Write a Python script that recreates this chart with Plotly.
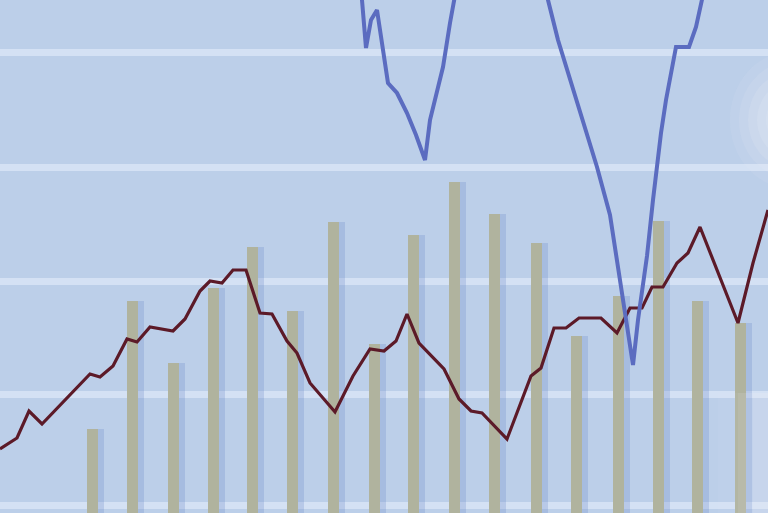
import plotly.graph_objects as go

# ---- data (height above the bottom edge, x position along the time axis) ----
bar_x = [92, 132, 173, 213, 252, 292, 333, 374, 413, 454, 494, 536, 576, 618, 658, 697, 740]
bar_y = [84, 212, 150, 225, 266, 202, 291, 169, 278, 331, 299, 270, 177, 217, 292, 212, 190]

red_x = [0, 17, 29, 42, 90, 100, 113, 127, 137, 150, 173, 185, 200, 210, 222, 233, 246,
         260, 272, 287, 297, 310, 335, 353, 370, 384, 396, 407, 419, 444, 459, 471, 482,
         507, 531, 541, 554, 566, 579, 601, 617, 630, 642, 652, 663, 677, 688, 700, 738,
         753, 768]
red_y = [64, 75, 102, 89, 139, 136, 147, 174, 171, 186, 182, 194, 222, 232, 230, 243, 243,
         200, 199, 172, 160, 130, 101, 137, 164, 162, 172, 199, 170, 144, 114, 102, 100,
         74, 137, 145, 185, 185, 195, 195, 180, 205, 205, 226, 226, 250, 260, 286, 190,
         250, 303]

blue_x = [360, 362, 366, 371, 377, 382, 388, 397, 407, 416, 425, 430, 436, 443, 450, 455, 456,
          None,
          546, 548, 558, 571, 584, 597, 610, 623, 628, 633, 638, 643, 647, 653, 661, 666, 676,
          689, 696, 703, 704]
blue_y = [523, 513, 465, 493, 503, 468, 430, 420, 400, 378, 353, 393, 418, 446, 490, 518, 523,
          None,
          523, 513, 473, 430, 386, 346, 298, 213, 178, 148, 193, 230, 257, 313, 380, 413, 466,
          466, 486, 518, 523]

grid_vals = [8, 119, 232, 346, 461]

fig = go.Figure()

# soft blue shadow to the right of each bar
fig.add_trace(go.Bar(x=bar_x, y=bar_y, width=9, offset=3,
                     marker=dict(color="rgba(110,140,200,0.28)", line=dict(width=0)),
                     hoverinfo="skip", showlegend=False))
fig.add_trace(go.Bar(x=bar_x, y=bar_y, width=11, offset=-5.5,
                     marker=dict(color="#b0b39e", line=dict(width=0)),
                     showlegend=False))

fig.add_trace(go.Scatter(x=red_x, y=red_y, mode="lines",
                         line=dict(color="#5c1a28", width=3.2),
                         showlegend=False))
fig.add_trace(go.Scatter(x=blue_x, y=blue_y, mode="lines", connectgaps=False,
                         line=dict(color="#5b6cc0", width=4),
                         showlegend=False))

# whitish haze at the right edge
for k, a in [(1.0, 0.10), (0.85, 0.12), (0.7, 0.14), (0.55, 0.16), (0.4, 0.16)]:
    fig.add_shape(type="circle", xref="x", yref="y",
                  x0=790 - 60 * k, x1=790 + 60 * k, y0=393 - 68 * k, y1=393 + 68 * k,
                  fillcolor=f"rgba(238,240,248,{a})", line=dict(width=0), layer="above")
for w, a in [(50, 0.06), (30, 0.08), (15, 0.10)]:
    fig.add_shape(type="rect", xref="x", yref="y",
                  x0=768 - w, x1=768, y0=0, y1=120,
                  fillcolor=f"rgba(245,245,250,{a})", line=dict(width=0), layer="above")

fig.update_layout(
    width=768, height=513,
    margin=dict(l=0, r=0, t=0, b=0),
    paper_bgcolor="#bccfe9",
    plot_bgcolor="#bccfe9",
    barmode="overlay",
    bargap=0,
    xaxis=dict(range=[0, 768], showgrid=False, zeroline=False,
               showticklabels=False, ticks="", showline=False),
    yaxis=dict(range=[0, 513], tickmode="array", tickvals=grid_vals,
               showgrid=True, gridcolor="rgba(218,229,246,0.8)", gridwidth=7,
               zeroline=False, showticklabels=False, ticks="", showline=False),
)

fig.write_html("out.html", config={"displayModeBar": False},
               post_script="document.body.style.margin='0';document.body.style.background='#bccfe9';")
